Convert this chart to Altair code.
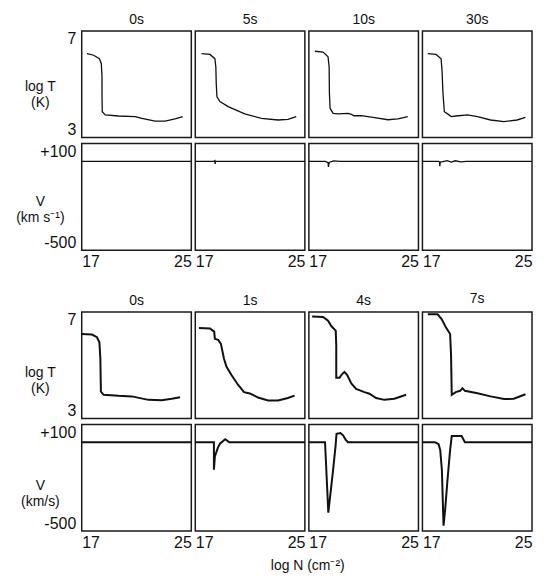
import altair as alt
import pandas as pd

FONT = "Liberation Sans"
INK = "#111111"

X_DOMAIN = [17, 25]
T_DOMAIN = [3, 7]
V_DOMAIN = [-500, 100]
X_TICKS = [17, 25]
T_TICKS = [3, 7]
V_TICKS = [-500, 100]

TOP_TIMES = ["0s", "5s", "10s", "30s"]
BOTTOM_TIMES = ["0s", "1s", "4s", "7s"]

# ---- upper set: log T versus log N ----
TA_0S_X = [17.39, 17.87, 18.29, 18.43, 18.48, 18.48, 18.5, 18.72, 19.69, 20.9, 21.39, 22.36, 23.09, 23.81, 24.37]
TA_0S_Y = [6.15, 6.09, 5.96, 5.78, 5.28, 4.66, 3.97, 3.85, 3.81, 3.79, 3.72, 3.62, 3.62, 3.70, 3.79]
TA_5S_X = [17.46, 18.07, 18.43, 18.5, 18.53, 18.58, 18.8, 19.4, 20.61, 21.82, 23.04, 23.76, 24.37]
TA_5S_Y = [6.15, 6.12, 5.96, 5.65, 5.03, 4.53, 4.35, 4.16, 3.89, 3.72, 3.66, 3.68, 3.79]
TA_10S_X = [17.44, 18.04, 18.4, 18.48, 18.5, 18.55, 18.77, 19.14, 19.87, 20.11, 20.3, 20.83, 21.8, 22.77, 23.5, 24.22]
TA_10S_Y = [6.24, 6.21, 6.03, 5.65, 4.66, 4.1, 3.91, 3.89, 3.91, 3.87, 3.82, 3.82, 3.75, 3.67, 3.7, 3.79]
TA_30S_X = [17.39, 18.0, 18.36, 18.43, 18.5, 18.6, 18.84, 19.1, 19.45, 20.29, 21.02, 21.98, 22.95, 23.91, 24.52]
TA_30S_Y = [6.15, 6.12, 5.96, 5.53, 4.66, 3.97, 3.89, 3.79, 3.81, 3.85, 3.79, 3.66, 3.6, 3.66, 3.76]

# ---- upper set: V versus log N ----
VA_0S_X = [17, 25]
VA_0S_Y = [0, 0]
VA_5S_X = [17, 18.35, 18.43, 18.45, 18.47, 18.6, 25]
VA_5S_Y = [0, 0, 4, -15, 0, 0, 0]
VA_10S_X = [17, 18.2, 18.4, 18.43, 18.48, 18.8, 19.3, 25]
VA_10S_Y = [0, 0, -8, -32, -6, 3, 0, 0]
VA_30S_X = [17, 18.2, 18.25, 18.27, 18.3, 18.5, 18.8, 19.1, 19.4, 19.8, 20.2, 25]
VA_30S_Y = [0, 0, -6, -28, -4, -2, 4, -4, 3, -3, 0, 0]

# ---- lower set: log T versus log N ----
TB_0S_X = [17.0, 17.75, 18.11, 18.29, 18.36, 18.4, 18.6, 19.69, 20.66, 21.87, 22.84, 23.57, 24.18]
TB_0S_Y = [6.17, 6.15, 6.05, 5.86, 5.25, 4.01, 3.89, 3.85, 3.83, 3.7, 3.69, 3.74, 3.8]
TB_1S_X = [17.27, 18.07, 18.38, 18.43, 18.67, 18.87, 19.09, 19.28, 19.64, 20.13, 20.56, 20.98, 21.58, 22.31, 23.04, 23.76, 24.25]
TB_1S_Y = [6.4, 6.38, 6.26, 5.99, 5.95, 5.8, 5.25, 4.94, 4.63, 4.26, 3.99, 3.94, 3.79, 3.68, 3.68, 3.77, 3.86]
TB_4S_X = [17.24, 18.04, 18.4, 18.65, 18.96, 19.0, 19.0, 19.24, 19.41, 19.6, 19.8, 20.1, 20.45, 21.06, 21.42, 21.91, 22.51, 23.24, 24.1]
TB_4S_Y = [6.83, 6.81, 6.67, 6.46, 6.3, 5.74, 4.53, 4.53, 4.66, 4.75, 4.63, 4.32, 4.11, 3.99, 3.93, 3.77, 3.7, 3.74, 3.89]
TB_7S_X = [17.39, 18.11, 18.4, 18.71, 19.02, 19.09, 19.14, 19.43, 19.75, 19.92, 20.1, 21.02, 21.98, 22.95, 23.67, 24.52]
TB_7S_Y = [6.91, 6.91, 6.73, 6.42, 6.17, 5.37, 3.89, 3.99, 4.04, 4.14, 4.04, 3.95, 3.83, 3.73, 3.74, 3.91]

# ---- lower set: V versus log N ----
VB_0S_X = [17, 25]
VB_0S_Y = [0, 0]
VB_1S_X = [17, 18.36, 18.36, 18.43, 18.65, 18.8, 19.18, 19.4, 19.5, 25]
VB_1S_Y = [0, 0, -155, -80, -30, -8, 17, 5, 0, 0]
VB_4S_X = [17, 18.18, 18.42, 18.75, 18.95, 19.02, 19.3, 19.5, 19.68, 19.86, 25]
VB_4S_Y = [0, 0, -396, -170, -20, 48, 52, 39, 15, 0, 0]
VB_7S_X = [17, 17.9, 18.05, 18.18, 18.3, 18.42, 18.54, 18.66, 18.83, 19.02, 19.14, 19.86, 20.1, 25]
VB_7S_Y = [0, 0, -5, -11, -44, -156, -470, -378, -211, -44, 35, 35, 0, 0]

TOP_T = [(TA_0S_X, TA_0S_Y), (TA_5S_X, TA_5S_Y), (TA_10S_X, TA_10S_Y), (TA_30S_X, TA_30S_Y)]
TOP_V = [(VA_0S_X, VA_0S_Y), (VA_5S_X, VA_5S_Y), (VA_10S_X, VA_10S_Y), (VA_30S_X, VA_30S_Y)]
BOT_T = [(TB_0S_X, TB_0S_Y), (TB_1S_X, TB_1S_Y), (TB_4S_X, TB_4S_Y), (TB_7S_X, TB_7S_Y)]
BOT_V = [(VB_0S_X, VB_0S_Y), (VB_1S_X, VB_1S_Y), (VB_4S_X, VB_4S_Y), (VB_7S_X, VB_7S_Y)]

W, H = 110, 107


def frame(xs, ys):
    return pd.DataFrame({"x": xs, "y": ys, "i": list(range(len(xs)))})


def t_panel(xs, ys, title, first, sw, ytitle, ty):
    yaxis = alt.Axis(values=T_TICKS, title=ytitle, titleX=-42, titleY=ty) if first else None
    return alt.Chart(frame(xs, ys)).mark_line(color=INK, strokeWidth=sw).encode(
        x=alt.X("x:Q", scale=alt.Scale(domain=X_DOMAIN, nice=False, zero=False), axis=None),
        y=alt.Y("y:Q", scale=alt.Scale(domain=T_DOMAIN, nice=False, zero=False), axis=yaxis),
        order=alt.Order("i:Q"),
    ).properties(width=W, height=H, title=alt.TitleParams(title, fontSize=14, font=FONT,
                                                          fontWeight="normal", color=INK, offset=4))


def v_panel(xs, ys, first, sw, ytitle, ty):
    yaxis = alt.Axis(values=V_TICKS, title=ytitle, titleX=-42, titleY=ty,
                     labelExpr="(datum.value > 0 ? '+' : '-') + abs(datum.value)") if first else None
    return alt.Chart(frame(xs, ys)).mark_line(color=INK, strokeWidth=sw).encode(
        x=alt.X("x:Q", scale=alt.Scale(domain=X_DOMAIN, nice=False, zero=False),
                axis=alt.Axis(values=X_TICKS, title=None, labelPadding=3)),
        y=alt.Y("y:Q", scale=alt.Scale(domain=V_DOMAIN, nice=False, zero=False), axis=yaxis),
        order=alt.Order("i:Q"),
    ).properties(width=W, height=H)


def group(times, tdata, vdata, sw, vtitle, ty_t, ty_v):
    tcharts = [t_panel(x, y, t, k == 0, sw, ["log T", "(K)"], ty_t)
               for k, (t, (x, y)) in enumerate(zip(times, tdata))]
    vcharts = [v_panel(x, y, k == 0, sw, vtitle, ty_v) for k, (x, y) in enumerate(vdata)]
    return alt.concat(*(tcharts + vcharts), columns=4, bounds="flush",
                      spacing=alt.RowColnumber(row=6, column=4))


g1 = group(TOP_TIMES, TOP_T, TOP_V, 1.3, ["V", "(km s\u207b\u00b9)"], 56, 58)
g2 = group(BOTTOM_TIMES, BOT_T, BOT_V, 2.0, ["V", "(km/s)"], 61, 61)

chart = alt.vconcat(g1, g2, spacing=21).properties(
    title=alt.TitleParams("log N (cm\u207b\u00b2)", orient="bottom", anchor="middle", dx=32,
                          fontSize=14, font=FONT, fontWeight="normal", color=INK, offset=8),
    padding={"left": 6, "top": 3, "right": 0, "bottom": 0},
    background="white",
).configure_view(stroke="#1a1a1a", strokeWidth=1.5).configure_axis(
    ticks=False, domain=False, grid=False, labelFlush=True,
    labelFont=FONT, labelFontSize=16, labelColor=INK, labelPadding=6,
    titleFont=FONT, titleFontSize=14, titleFontWeight="normal", titleColor=INK,
    titleAngle=0, titleAlign="center", titleBaseline="middle", titleLineHeight=16,
)

chart.save("out.html", embed_options={"renderer": "svg", "actions": False})
